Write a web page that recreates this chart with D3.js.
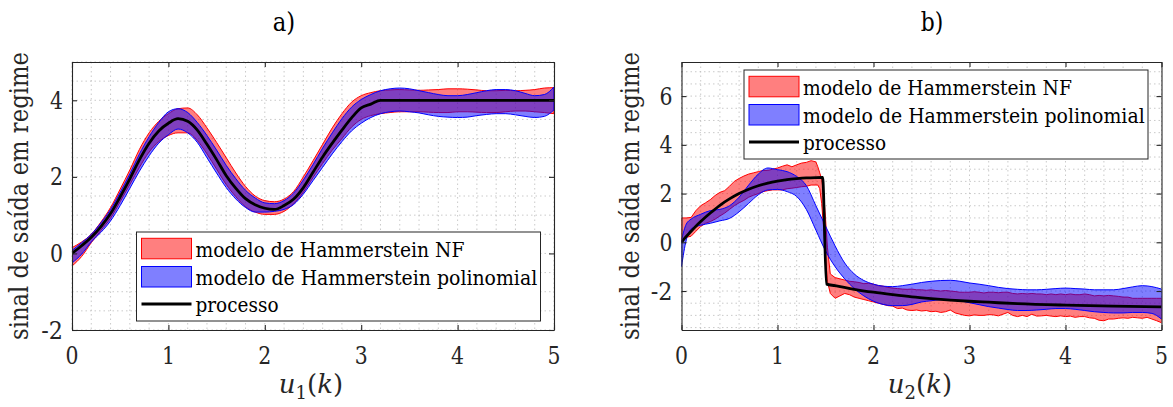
<!DOCTYPE html>
<html>
<head>
<meta charset="utf-8">
<script src="https://cdn.jsdelivr.net/npm/d3@7"></script>
</head>
<body style="margin:0;background:#fff">
<svg id="fig" width="1173" height="407"></svg>
<script>
// ---------- panel a) : steady-state output vs u1 ----------
const aU = [0,0.1,0.2,0.3,0.4,0.5,0.6,0.7,0.8,0.9,1.0,1.1,1.2,1.3,1.4,1.5,1.6,1.7,1.8,1.9,
            2.0,2.1,2.2,2.3,2.4,2.5,2.6,2.7,2.8,2.9,3.0,3.1,3.2,3.3,3.4,3.5,3.6,3.7,3.8,3.9,
            4.0,4.1,4.2,4.3,4.4,4.5,4.6,4.7,4.8,4.9,5.0];
const aProcess = [0,0.2,0.42,0.7,1.04,1.48,1.95,2.45,2.88,3.2,3.4,3.52,3.45,3.22,2.85,2.45,2.03,1.7,1.43,1.27,
                  1.18,1.15,1.25,1.42,1.72,2.12,2.52,2.88,3.22,3.54,3.8,3.9,4.0,4.0,4.0,4.0,4.0,4.0,4.0,4.0,
                  4.0,4.0,4.0,4.0,4.0,4.0,4.0,4.0,4.0,4.0,4.0];
const aNFHi = [0.15,0.3,0.5,0.82,1.2,1.68,2.18,2.72,3.15,3.45,3.65,3.78,3.8,3.62,3.28,2.9,2.5,2.1,1.75,1.5,
               1.38,1.35,1.42,1.62,2.0,2.42,2.85,3.28,3.65,3.95,4.12,4.2,4.25,4.27,4.28,4.27,4.26,4.27,4.28,4.3,
               4.3,4.29,4.27,4.25,4.25,4.26,4.25,4.26,4.28,4.32,4.33];
const aNFLo = [-0.33,-0.08,0.28,0.6,0.92,1.35,1.8,2.25,2.65,2.92,3.08,3.15,3.15,2.95,2.6,2.2,1.8,1.48,1.22,1.08,
               1.02,1.02,1.1,1.3,1.6,1.98,2.35,2.7,3.0,3.3,3.5,3.6,3.65,3.68,3.7,3.7,3.7,3.69,3.68,3.68,
               3.7,3.7,3.69,3.68,3.68,3.7,3.72,3.72,3.7,3.68,3.65];
const aPolyHi = [0.08,0.28,0.5,0.8,1.15,1.6,2.08,2.6,3.05,3.42,3.7,3.78,3.68,3.42,3.08,2.7,2.3,1.95,1.65,1.45,
                 1.32,1.3,1.38,1.58,1.92,2.32,2.75,3.15,3.52,3.82,4.02,4.15,4.25,4.3,4.32,4.3,4.25,4.2,4.15,4.12,
                 4.12,4.15,4.2,4.25,4.28,4.28,4.25,4.18,4.12,4.15,4.35];
const aPolyLo = [-0.25,-0.02,0.3,0.55,0.85,1.25,1.7,2.15,2.55,2.88,3.1,3.25,3.15,2.9,2.5,2.1,1.72,1.42,1.2,1.08,
                 1.08,1.1,1.15,1.28,1.55,1.9,2.25,2.6,2.92,3.2,3.4,3.55,3.65,3.7,3.72,3.7,3.67,3.62,3.58,3.56,
                 3.55,3.56,3.6,3.63,3.65,3.65,3.62,3.58,3.55,3.58,3.75];

// ---------- panel b) : steady-state output vs u2 ----------
const bProcU = [0,0.05,0.1,0.15,0.2,0.3,0.4,0.5,0.6,0.7,0.8,0.9,1.0,1.1,1.2,1.3,1.4,1.47,
                1.51,1.6,1.8,2.0,2.2,2.4,2.6,2.8,3.0,3.2,3.5,4.0,4.5,5.0];
const bProcess = [0,0.24,0.45,0.66,0.85,1.2,1.52,1.78,2.0,2.18,2.32,2.43,2.51,2.57,2.61,2.64,2.655,2.66,
                  -1.72,-1.78,-1.93,-2.05,-2.15,-2.24,-2.31,-2.37,-2.42,-2.46,-2.52,-2.58,-2.62,-2.65];

const bNFU = [0,0.05,0.1,0.15,0.2,0.25,0.3,0.35,0.4,0.45,0.5,0.55,0.6,0.65,0.7,0.75,0.8,0.85,0.9,0.95,
              1.0,1.05,1.1,1.15,1.2,1.25,1.3,1.35,1.4,1.42,1.44,1.46,1.48,1.5,1.52,1.55,
              1.6,1.65,1.7,1.75,1.8,1.85,1.9,1.95,2.0,2.05,2.1,2.15,2.2,2.25,2.3,2.35,2.4,2.45,2.5,2.55,
              2.6,2.65,2.7,2.75,2.8,2.85,2.9,2.95,3.0,3.05,3.1,3.15,3.2,3.25,3.3,3.35,3.4,3.45,3.5,3.55,
              3.6,3.65,3.7,3.75,3.8,3.85,3.9,3.95,4.0,4.05,4.1,4.15,4.2,4.25,4.3,4.35,4.4,4.45,4.5,4.55,
              4.6,4.65,4.7,4.75,4.8,4.85,4.9,4.95,5.0];
const bNFHi = [1.0,1.0,1.02,1.3,1.5,1.62,1.75,1.92,2.05,2.12,2.3,2.5,2.62,2.72,2.8,2.85,2.9,2.95,2.95,3.0,
               3.05,3.12,3.18,3.1,3.18,3.25,3.28,3.35,3.3,3.1,2.85,2.6,2.0,1.0,-0.2,-1.3,
               -1.45,-1.5,-1.55,-1.6,-1.62,-1.65,-1.7,-1.68,-1.72,-1.78,-1.8,-1.85,-1.88,-1.9,-1.92,-1.93,-1.92,-1.95,-1.95,-1.97,
               -1.95,-1.98,-2.0,-1.98,-2.0,-2.02,-2.05,-2.05,-2.05,-2.03,-2.05,-2.08,-2.05,-2.05,-2.07,-2.05,-2.05,-2.1,-2.12,-2.1,
               -2.12,-2.1,-2.12,-2.12,-2.15,-2.12,-2.15,-2.12,-2.15,-2.12,-2.15,-2.15,-2.12,-2.15,-2.2,-2.18,-2.2,-2.18,-2.2,-2.22,
               -2.25,-2.25,-2.3,-2.3,-2.3,-2.3,-2.3,-2.3,-2.3];
const bNFLo = [0.0,0.2,0.25,0.45,0.65,0.78,0.85,0.95,1.08,1.2,1.35,1.5,1.62,1.72,1.85,1.93,2.0,2.08,2.12,2.15,
               2.15,2.15,2.2,2.22,2.25,2.28,2.3,2.35,2.35,2.35,2.2,1.6,0.6,-0.6,-1.6,-2.1,
               -2.3,-2.2,-2.1,-2.15,-2.25,-2.3,-2.35,-2.4,-2.45,-2.5,-2.55,-2.6,-2.62,-2.72,-2.7,-2.78,-2.8,-2.78,-2.82,-2.8,
               -2.85,-2.83,-2.88,-2.85,-2.78,-2.9,-2.95,-3.0,-3.02,-2.98,-3.0,-3.0,-2.97,-2.98,-3.02,-2.95,-2.88,-3.0,-3.05,-3.0,
               -3.05,-2.95,-3.03,-3.02,-3.0,-3.03,-3.05,-3.02,-3.05,-3.03,-3.08,-3.05,-3.05,-3.1,-3.12,-3.2,-3.22,-3.15,-3.15,-3.12,
               -3.1,-3.12,-3.08,-3.1,-3.12,-3.08,-3.15,-3.22,-3.3];

const bPolyU = [0,0.05,0.1,0.2,0.3,0.4,0.5,0.6,0.7,0.8,0.9,
                1.0,1.1,1.2,1.3,1.4,1.5,1.6,1.7,1.8,1.9,
                2.0,2.1,2.2,2.3,2.4,2.5,2.6,2.7,2.8,2.9,
                3.0,3.1,3.2,3.3,3.4,3.5,3.6,3.7,3.8,3.9,
                4.0,4.1,4.2,4.3,4.4,4.5,4.6,4.7,4.8,4.9,5.0];
const bPolyHi = [0.1,0.75,0.95,1.15,1.3,1.35,1.5,1.85,2.35,2.8,3.05,
                 2.98,2.9,2.7,2.33,1.5,0.67,-0.15,-0.85,-1.3,-1.57,
                 -1.72,-1.8,-1.82,-1.78,-1.72,-1.65,-1.6,-1.57,-1.56,-1.6,
                 -1.67,-1.72,-1.78,-1.85,-1.9,-1.93,-1.95,-1.95,-1.93,-1.9,
                 -1.88,-1.9,-1.92,-1.95,-1.95,-1.95,-1.9,-1.83,-1.78,-1.82,-1.92];
const bPolyLo = [-1.0,0.1,0.55,0.7,0.78,0.88,0.98,1.25,1.6,1.95,2.15,
                 2.17,2.08,1.88,1.35,0.5,-0.35,-1.0,-1.5,-1.9,-2.2,
                 -2.42,-2.55,-2.6,-2.6,-2.55,-2.45,-2.4,-2.36,-2.36,-2.4,
                 -2.48,-2.56,-2.64,-2.7,-2.76,-2.8,-2.8,-2.78,-2.75,-2.72,
                 -2.72,-2.75,-2.8,-2.85,-2.88,-2.9,-2.9,-2.88,-2.88,-2.92,-3.15];

const xTickValues = [0,1,2,3,4,5];
const aYTicks = [-2,0,2,4];
const bYTicks = [-2,0,2,4,6];
const legendLabels = ["modelo de Hammerstein NF", "modelo de Hammerstein polinomial", "processo"];
const yLabelText = "sinal de saída em regime";

// ---------- drawing ----------
const svg = d3.select("#fig");
const ink = "#262626";
const nfFill = "rgba(255,0,0,0.5)", nfEdge = "#ff0000";
const polyFill = "rgba(0,0,255,0.5)", polyEdge = "#0000ff";
const defs = svg.append("defs");

// serif text, optionally fitted to a given advance width
function addText(size, fitWidth) {
  const t = svg.append("text").attr("style", `font-family: 'DejaVu Serif'; font-size: ${size}px`);
  if (fitWidth) t.attr("textLength", fitWidth).attr("lengthAdjust", "spacingAndGlyphs");
  return t;
}
const tickWidth = v => String(Math.abs(v)).length * 13 + (v < 0 ? 8.7 : 0);
const legendWidths = [269, 341.7, 83];

function drawPanel(cfg) {
  const x = d3.scaleLinear().domain([0, 5]).range([cfg.left, cfg.right]);
  const y = d3.scaleLinear().domain(cfg.yDomain).range([cfg.bottom, cfg.top]);
  const g = svg.append("g");

  defs.append("clipPath").attr("id", "clip-" + cfg.id)
    .append("rect").attr("x", cfg.left).attr("y", cfg.top)
    .attr("width", cfg.right - cfg.left).attr("height", cfg.bottom - cfg.top);

  // dotted grid (major and minor)
  const grid = g.append("g").attr("stroke", "#bdbdbd").attr("stroke-width", 0.8)
    .attr("stroke-dasharray", "1.5,3");
  d3.range(0, 5.0001, 0.2).forEach(v => {
    grid.append("line").attr("x1", x(v)).attr("x2", x(v)).attr("y1", cfg.top).attr("y2", cfg.bottom);
  });
  cfg.gridY.forEach(v => {
    grid.append("line").attr("y1", y(v)).attr("y2", y(v)).attr("x1", cfg.left).attr("x2", cfg.right);
  });

  const plot = g.append("g").attr("clip-path", "url(#clip-" + cfg.id + ")");

  function band(u, hi, lo, curve, fill, edge) {
    const area = d3.area().x((d, i) => x(u[i])).y0((d, i) => y(lo[i])).y1((d, i) => y(hi[i])).curve(curve);
    plot.append("path").datum(u).attr("d", area)
      .attr("fill", fill).attr("stroke", edge).attr("stroke-width", 1).attr("stroke-linejoin", "round");
  }
  band(cfg.nf.u, cfg.nf.hi, cfg.nf.lo, cfg.nf.curve, nfFill, nfEdge);
  band(cfg.poly.u, cfg.poly.hi, cfg.poly.lo, cfg.poly.curve, polyFill, polyEdge);

  const line = d3.line().x((d, i) => x(cfg.proc.u[i])).y(d => y(d)).curve(cfg.proc.curve);
  plot.append("path").datum(cfg.proc.y).attr("d", line)
    .attr("fill", "none").attr("stroke", "#000").attr("stroke-width", 2.8).attr("stroke-linejoin", "round");

  // axes box with inward ticks on all sides (labels are written separately)
  const axes = [
    g.append("g").attr("transform", `translate(0,${cfg.bottom})`)
      .call(d3.axisBottom(x).tickValues(xTickValues).tickSizeInner(-5).tickSizeOuter(0).tickFormat("")),
    g.append("g").attr("transform", `translate(0,${cfg.top})`)
      .call(d3.axisTop(x).tickValues(xTickValues).tickSizeInner(-5).tickSizeOuter(0).tickFormat("")),
    g.append("g").attr("transform", `translate(${cfg.left},0)`)
      .call(d3.axisLeft(y).tickValues(cfg.yTicks).tickSizeInner(-5).tickSizeOuter(0).tickFormat("")),
    g.append("g").attr("transform", `translate(${cfg.right},0)`)
      .call(d3.axisRight(y).tickValues(cfg.yTicks).tickSizeInner(-5).tickSizeOuter(0).tickFormat(""))
  ];
  axes.forEach(a => {
    a.select(".domain").attr("stroke", ink).attr("stroke-width", 1.1);
    a.selectAll(".tick line").attr("stroke", ink).attr("stroke-width", 1.1);
    a.selectAll(".tick text").remove();
  });

  // tick labels
  xTickValues.forEach(v => {
    addText(24, tickWidth(v)).attr("x", x(v)).attr("y", cfg.bottom + 34).attr("text-anchor", "middle")
      .attr("fill", ink).text(String(v));
  });
  cfg.yTicks.forEach(v => {
    addText(24, tickWidth(v)).attr("x", cfg.left - 9).attr("y", y(v) + 8.5).attr("text-anchor", "end")
      .attr("fill", ink).text(String(v));
  });

  // title
  addText(26, 22.5).attr("x", cfg.titleX).attr("y", 31).attr("text-anchor", "middle")
    .attr("fill", "#000").text(cfg.title);

  // x label (math)
  const xl = addText(26).attr("x", cfg.xLabelX).attr("y", 393).attr("text-anchor", "middle").attr("fill", ink);
  xl.append("tspan").attr("font-style", "italic").text("u");
  xl.append("tspan").attr("font-size", 18).attr("dy", 6).text(cfg.sub);
  xl.append("tspan").attr("dy", -6).text("(");
  xl.append("tspan").attr("font-style", "italic").text("k");
  xl.append("tspan").text(")");

  // y label
  addText(25.5, 288).attr("transform", `translate(${cfg.yLabelX},${(cfg.top + cfg.bottom) / 2}) rotate(-90)`)
    .attr("text-anchor", "middle").attr("fill", ink).text(yLabelText);

  // legend
  const lx = cfg.legX, ly = cfg.legY;
  svg.append("rect").attr("x", lx).attr("y", ly).attr("width", 404).attr("height", 89).attr("fill", "#fff")
    .attr("stroke", ink).attr("stroke-width", 1);
  svg.append("rect").attr("x", lx + 5).attr("y", ly + 6.3).attr("width", 50).attr("height", 20.5)
    .attr("fill", nfFill).attr("stroke", nfEdge).attr("stroke-width", 1);
  svg.append("rect").attr("x", lx + 5).attr("y", ly + 34.5).attr("width", 50).attr("height", 20.5)
    .attr("fill", polyFill).attr("stroke", polyEdge).attr("stroke-width", 1);
  svg.append("line").attr("x1", lx + 5).attr("x2", lx + 55).attr("y1", ly + 72).attr("y2", ly + 72)
    .attr("stroke", "#000").attr("stroke-width", 2.8);
  [25.3, 53.3, 80].forEach((by, i) => {
    addText(21, legendWidths[i]).attr("x", lx + 59).attr("y", ly + by).attr("fill", "#000").text(legendLabels[i]);
  });
}

drawPanel({
  id: "a", title: "a)", sub: "1",
  left: 72, right: 554, top: 62, bottom: 330,
  yDomain: [-2, 5], yTicks: aYTicks, gridY: d3.range(-2, 5.0001, 0.5),
  nf: { u: aU, hi: aNFHi, lo: aNFLo, curve: d3.curveMonotoneX },
  poly: { u: aU, hi: aPolyHi, lo: aPolyLo, curve: d3.curveMonotoneX },
  proc: { u: aU, y: aProcess, curve: d3.curveMonotoneX },
  titleX: 284, xLabelX: 311, yLabelX: 28,
  legX: 136.5, legY: 232
});

drawPanel({
  id: "b", title: "b)", sub: "2",
  left: 681.5, right: 1161.5, top: 62, bottom: 330,
  yDomain: [-3.6, 7.4], yTicks: bYTicks, gridY: d3.range(-3.5, 7.0001, 0.5),
  nf: { u: bNFU, hi: bNFHi, lo: bNFLo, curve: d3.curveLinear },
  poly: { u: bPolyU, hi: bPolyHi, lo: bPolyLo, curve: d3.curveMonotoneX },
  proc: { u: bProcU, y: bProcess, curve: d3.curveMonotoneX },
  titleX: 932, xLabelX: 920, yLabelX: 639,
  legX: 744, legY: 70
});
</script>
</body>
</html>
